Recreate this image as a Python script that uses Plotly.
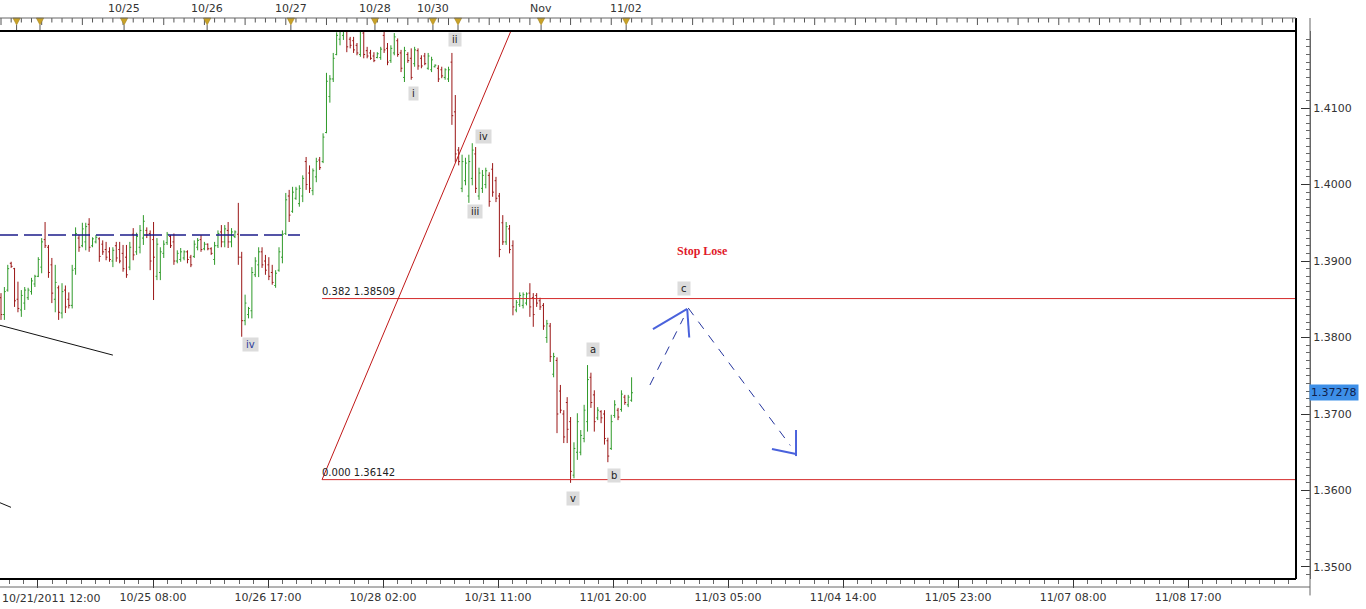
import plotly.graph_objects as go

# ---------------- data (hourly EUR/USD bars) ----------------
bar_open = [1.3852,1.3830,1.3862,1.3897,1.3890,1.3850,1.3836,1.3845,1.3852,1.3860,
            1.3870,1.3880,1.3892,1.3928,1.3918,1.3895,1.3850,1.3865,1.3832,1.3862,
            1.3850,1.3842,1.3890,1.3930,1.3920,1.3925,1.3948,1.3920,1.3925,1.3929,
            1.3922,1.3915,1.3912,1.3900,1.3920,1.3915,1.3910,1.3905,1.3892,1.3935,
            1.3912,1.3918,1.3930,1.3940,1.3936,1.3928,1.3880,1.3885,1.3910,1.3924,
            1.3932,1.3925,1.3900,1.3902,1.3904,1.3912,1.3905,1.3906,1.3918,1.3928,
            1.3916,1.3922,1.3916,1.3902,1.3920,1.3938,1.3925,1.3940,1.3925,1.3932,
            1.3935,1.3905,1.3822,1.3830,1.3835,1.3882,1.3895,1.3912,1.3900,1.3895,
            1.3885,1.3868,1.3888,1.3905,1.3936,1.3985,1.3965,1.3982,1.3975,1.3985,
            1.4030,1.4015,1.3992,1.4010,1.4032,1.4030,1.4068,1.4115,1.4138,1.4170,
            1.4190,1.4195,1.4200,1.4190,1.4188,1.4182,1.4170,1.4198,1.4175,1.4172,
            1.4168,1.4166,1.4166,1.4195,1.4178,1.4162,1.4172,1.4188,1.4172,1.4140,
            1.4170,1.4165,1.4158,1.4175,1.4165,1.4168,1.4152,1.4150,1.4154,1.4152,
            1.4150,1.4140,1.4138,1.4160,1.4095,1.4045,1.3995,1.4005,1.3985,1.4008,
            1.4040,1.3985,1.3995,1.4000,1.4012,1.4020,1.4005,1.3985,1.3950,1.3925,
            1.3942,1.3920,1.3836,1.3843,1.3842,1.3845,1.3858,1.3852,1.3855,1.3848,
            1.3842,1.3800,1.3815,1.3752,1.3770,1.3730,1.3700,1.3715,1.3690,1.3620,
            1.3650,1.3650,1.3668,1.3690,1.3748,1.3725,1.3695,1.3703,1.3700,1.3665,
            1.3655,1.3698,1.3705,1.3706,1.3722,1.3712,1.3718]
bar_high = [1.3858,1.3866,1.3895,1.3899,1.3891,1.3873,1.3862,1.3866,1.3865,1.3878,
            1.3882,1.3905,1.3930,1.3951,1.3921,1.3904,1.3895,1.3868,1.3871,1.3868,
            1.3859,1.3895,1.3944,1.3934,1.3950,1.3950,1.3956,1.3931,1.3934,1.3931,
            1.3927,1.3925,1.3918,1.3918,1.3925,1.3925,1.3921,1.3921,1.3925,1.3943,
            1.3937,1.3947,1.3960,1.3944,1.3940,1.3951,1.3930,1.3918,1.3927,1.3938,
            1.3934,1.3936,1.3914,1.3917,1.3914,1.3914,1.3908,1.3927,1.3930,1.3934,
            1.3925,1.3923,1.3918,1.3925,1.3940,1.3947,1.3947,1.3951,1.3943,1.3940,
            1.3976,1.3912,1.3856,1.3840,1.3892,1.3905,1.3918,1.3918,1.3908,1.3905,
            1.3895,1.3888,1.3918,1.3940,1.3989,1.3993,1.3997,1.3997,1.3999,1.4012,
            1.4036,1.4025,1.4021,1.4035,1.4036,1.4067,1.4146,1.4143,1.4172,1.4199,
            1.4208,1.4215,1.4204,1.4193,1.4193,1.4185,1.4208,1.4204,1.4180,1.4176,
            1.4173,1.4173,1.4180,1.4204,1.4185,1.4182,1.4198,1.4191,1.4176,1.4180,
            1.4173,1.4178,1.4180,1.4178,1.4169,1.4172,1.4172,1.4167,1.4157,1.4156,
            1.4154,1.4152,1.4154,1.4172,1.4117,1.4049,1.4039,1.4035,1.4039,1.4054,
            1.4049,1.4022,1.4019,1.4022,1.4016,1.4028,1.4010,1.3989,1.3960,1.3951,
            1.3947,1.3927,1.3849,1.3859,1.3859,1.3859,1.3871,1.3858,1.3858,1.3852,
            1.3845,1.3823,1.3819,1.3780,1.3774,1.3738,1.3705,1.3722,1.3696,1.3663,
            1.3701,1.3679,1.3712,1.3764,1.3754,1.3731,1.3709,1.3705,1.3705,1.3669,
            1.3699,1.3718,1.3708,1.3731,1.3725,1.3725,1.3748]
bar_low = [1.3823,1.3823,1.3860,1.3891,1.3840,1.3833,1.3827,1.3836,1.3849,1.3856,
           1.3866,1.3879,1.3884,1.3917,1.3878,1.3845,1.3833,1.3823,1.3825,1.3832,
           1.3838,1.3838,1.3882,1.3912,1.3918,1.3914,1.3912,1.3918,1.3923,1.3899,
           1.3908,1.3901,1.3899,1.3892,1.3899,1.3897,1.3886,1.3878,1.3888,1.3901,
           1.3908,1.3910,1.3921,1.3930,1.3888,1.3849,1.3875,1.3875,1.3904,1.3921,
           1.3917,1.3895,1.3897,1.3899,1.3901,1.3897,1.3892,1.3904,1.3914,1.3912,
           1.3914,1.3914,1.3908,1.3895,1.3917,1.3918,1.3918,1.3917,1.3918,1.3930,
           1.3895,1.3801,1.3816,1.3825,1.3825,1.3879,1.3879,1.3891,1.3882,1.3875,
           1.3869,1.3865,1.3886,1.3897,1.3934,1.3951,1.3963,1.3980,1.3971,1.3977,
           1.3993,1.3989,1.3986,1.4003,1.4019,1.4028,1.4067,1.4107,1.4134,1.4169,
           1.4182,1.4189,1.4173,1.4178,1.4172,1.4169,1.4167,1.4165,1.4165,1.4163,
           1.4160,1.4165,1.4163,1.4172,1.4156,1.4159,1.4169,1.4167,1.4147,1.4134,
           1.4159,1.4137,1.4154,1.4150,1.4152,1.4156,1.4150,1.4147,1.4153,1.4134,
           1.4139,1.4137,1.4134,1.4078,1.4029,1.4025,1.3990,1.3999,1.3976,1.3999,
           1.3989,1.3980,1.3989,1.3995,1.3971,1.3984,1.3977,1.3905,1.3921,1.3921,
           1.3910,1.3829,1.3833,1.3840,1.3838,1.3842,1.3827,1.3814,1.3840,1.3836,
           1.3810,1.3793,1.3768,1.3748,1.3675,1.3701,1.3662,1.3662,1.3610,1.3616,
           1.3640,1.3646,1.3663,1.3677,1.3708,1.3677,1.3692,1.3688,1.3660,1.3637,
           1.3653,1.3695,1.3692,1.3703,1.3712,1.3709,1.3716]
bar_close = [1.3830,1.3860,1.3890,1.3893,1.3848,1.3838,1.3855,1.3862,1.3862,1.3874,
             1.3880,1.3902,1.3925,1.3920,1.3885,1.3858,1.3872,1.3833,1.3860,1.3840,
             1.3842,1.3888,1.3936,1.3918,1.3942,1.3945,1.3918,1.3929,1.3931,1.3906,
             1.3912,1.3905,1.3902,1.3914,1.3904,1.3900,1.3890,1.3882,1.3918,1.3908,
             1.3932,1.3940,1.3952,1.3934,1.3900,1.3905,1.3922,1.3912,1.3922,1.3935,
             1.3920,1.3900,1.3910,1.3912,1.3912,1.3902,1.3895,1.3922,1.3927,1.3915,
             1.3922,1.3916,1.3910,1.3920,1.3936,1.3925,1.3942,1.3925,1.3938,1.3938,
             1.3905,1.3822,1.3845,1.3838,1.3885,1.3900,1.3912,1.3895,1.3888,1.3880,
             1.3872,1.3884,1.3912,1.3935,1.3980,1.3960,1.3990,1.3994,1.3995,1.4008,
             1.4000,1.3995,1.4018,1.4030,1.4022,1.4062,1.4135,1.4138,1.4165,1.4195,
             1.4203,1.4210,1.4180,1.4182,1.4176,1.4172,1.4200,1.4170,1.4168,1.4165,
             1.4162,1.4171,1.4177,1.4176,1.4160,1.4178,1.4193,1.4170,1.4152,1.4175,
             1.4162,1.4140,1.4176,1.4155,1.4155,1.4158,1.4168,1.4163,1.4156,1.4138,
             1.4142,1.4150,1.4150,1.4090,1.4040,1.4030,1.4030,1.4028,1.4030,1.4045,
             1.3995,1.4015,1.4012,1.4018,1.3978,1.3990,1.3982,1.3915,1.3925,1.3945,
             1.3915,1.3840,1.3846,1.3855,1.3856,1.3857,1.3840,1.3830,1.3845,1.3840,
             1.3815,1.3818,1.3775,1.3775,1.3700,1.3705,1.3670,1.3680,1.3625,1.3655,
             1.3690,1.3672,1.3705,1.3745,1.3715,1.3690,1.3705,1.3695,1.3668,1.3645,
             1.3690,1.3712,1.3696,1.3726,1.3715,1.3722,1.37278]
bar_index = list(range(len(bar_close)))

bottom_tick_pos = [10.91, 44.84, 78.76, 112.68, 146.61, 180.53, 214.45, 248.38, 282.30, 316.22, 350.15]
bottom_tick_text = ["", "10/25 08:00", "10/26 17:00", "10/28 02:00", "10/31 11:00", "11/01 20:00",
                    "11/03 05:00", "11/04 14:00", "11/05 23:00", "11/07 08:00", "11/08 17:00"]
first_bottom_label = "10/21/2011 12:00"

top_marker_pos = [4.6, 11.5, 36.3, 60.8, 85.5, 110.3, 127.4, 134.8, 159.3, 184.4]
top_label_pos = [36.3, 60.8, 85.5, 110.3, 127.4, 159.3, 184.4]
top_label_text = ["10/25", "10/26", "10/27", "10/28", "10/30", "Nov", "11/02"]

fib_ratio = ["0.382", "0.000"]
fib_price = [1.38509, 1.36142]
fib_start = 94.7
last_price = 1.37278

wave_text = ["ii", "i", "iv", "iii", "iv", "a", "v", "b", "c"]
wave_x = [134.0, 121.8, 142.2, 139.8, 73.5, 174.6, 168.7, 180.8, 201.5]
wave_y = [1.41902, 1.41196, 1.40634, 1.39641, 1.37915, 1.37837, 1.35889, 1.36190, 1.38647]

y_tick_vals = [1.35, 1.36, 1.37, 1.38, 1.39, 1.40, 1.41]

X_MIN, X_MAX = -0.295, 386.1
Y_MIN, Y_MAX = 1.34843, 1.42007
BORDER_X = 381.98   # right edge of the price pane
PANE_PAPER_X = 1296 / 1310
STRIP_TOP = 1.0237   # paper y of the thin line above the time strip
TRI_BOTTOM = 1.0109

fig = go.Figure()

fig.add_trace(go.Ohlc(
    x=bar_index, open=bar_open, high=bar_high, low=bar_low, close=bar_close,
    increasing=dict(line=dict(color="#2f9a2a", width=1)),
    decreasing=dict(line=dict(color="#9a1515", width=1)),
    tickwidth=0.4, hoverinfo="skip", showlegend=False))

shapes = []
# top time strip: small ticks hanging from the thin line
for k, xv in enumerate([i * 3.0 for i in range(0, 128)]):
    shapes.append(dict(type="line", xref="x", yref="paper", x0=xv, x1=xv, y0=STRIP_TOP,
                       y1=STRIP_TOP - (0.0128 if k % 4 == 0 else 0.0082),
                       line=dict(color="#555", width=1)))
# golden day markers
for xv in top_marker_pos:
    shapes.append(dict(type="path", xref="x", yref="paper",
                       path=f"M {xv - 1.1},{STRIP_TOP} L {xv + 1.1},{STRIP_TOP} L {xv},{TRI_BOTTOM} Z",
                       fillcolor="#c9a227", line=dict(color="#9a7a18", width=0.5)))
    shapes.append(dict(type="line", xref="x", yref="paper", x0=xv, x1=xv, y0=TRI_BOTTOM, y1=1.0,
                       line=dict(color="#555", width=1)))
# fibonacci levels
for p in fib_price:
    shapes.append(dict(type="line", xref="x", yref="y", x0=fib_start, x1=BORDER_X, y0=p, y1=p,
                       line=dict(color="#d42a2a", width=1)))
# red trend line
shapes.append(dict(type="line", xref="x", yref="y", x0=fib_start, y0=fib_price[1], x1=150.4, y1=Y_MAX,
                   line=dict(color="#c01818", width=1)))
# black trend lines at left
shapes.append(dict(type="line", xref="x", yref="y", x0=X_MIN, y0=1.3816, x1=33.0, y1=1.3777,
                   line=dict(color="#111", width=1)))
shapes.append(dict(type="line", xref="x", yref="y", x0=X_MIN, y0=1.3584, x1=2.95, y1=1.3578,
                   line=dict(color="#111", width=1)))
# navy dashed horizontal
shapes.append(dict(type="line", xref="x", yref="y", x0=X_MIN, y0=1.3934, x1=88.2, y1=1.3934,
                   line=dict(color="#1c1c8a", width=1.5, dash="18px,6px")))
# projected path (dashed) with arrow heads
shapes.append(dict(type="line", xref="x", yref="y", x0=191.4, y0=1.37379, x1=201.3, y1=1.38255,
                   line=dict(color="#25359e", width=1, dash="9px,8px")))
shapes.append(dict(type="line", xref="x", yref="y", x0=202.7, y0=1.38386, x1=232.8, y1=1.36589,
                   line=dict(color="#25359e", width=1, dash="9px,8px")))
for (xa, ya, xb, yb) in [(192.3, 1.38111, 202.4, 1.38373), (202.4, 1.38373, 203.0, 1.3800),
                         (227.4, 1.36542, 234.5, 1.36477), (234.5, 1.36791, 234.5, 1.36450)]:
    shapes.append(dict(type="line", xref="x", yref="y", x0=xa, y0=ya, x1=xb, y1=yb,
                       line=dict(color="#4a62dc", width=2)))
# pane frame
shapes.append(dict(type="line", xref="paper", yref="paper", x0=0, x1=PANE_PAPER_X, y0=1, y1=1,
                   line=dict(color="#000", width=2)))
shapes.append(dict(type="line", xref="paper", yref="paper", x0=0, x1=PANE_PAPER_X, y0=0, y1=0,
                   line=dict(color="#000", width=2)))
shapes.append(dict(type="line", xref="paper", yref="paper", x0=PANE_PAPER_X, x1=PANE_PAPER_X, y0=0, y1=STRIP_TOP,
                   line=dict(color="#000", width=2)))
shapes.append(dict(type="line", xref="paper", yref="paper", x0=0, x1=PANE_PAPER_X, y0=STRIP_TOP, y1=STRIP_TOP,
                   line=dict(color="#666", width=1)))
shapes.append(dict(type="line", xref="paper", yref="paper", x0=0, x1=1, y0=-0.0146, y1=-0.0146,
                   line=dict(color="#666", width=1)))
shapes.append(dict(type="line", xref="paper", yref="paper", x0=1, x1=1, y0=-0.03, y1=STRIP_TOP,
                   line=dict(color="#666", width=1)))

annotations = []
annotations.append(dict(xref="paper", yref="paper", x=0, y=-0.0146, xanchor="left", yanchor="top",
                        yshift=-3, text=first_bottom_label, showarrow=False,
                        font=dict(family="DejaVu Sans", size=11, color="#333")))
for t, x in zip(top_label_text, top_label_pos):
    annotations.append(dict(xref="x", yref="paper", x=x, y=1.0415, yanchor="middle", text=t,
                            showarrow=False, font=dict(family="DejaVu Sans", size=11, color="#333")))
for r, p in zip(fib_ratio, fib_price):
    annotations.append(dict(xref="x", yref="y", x=fib_start, y=p, xanchor="left", yanchor="bottom",
                            text=f"{r} {p:.5f}", showarrow=False, xshift=-2,
                            font=dict(family="DejaVu Sans", size=10, color="#222")))
for i, (t, x, y) in enumerate(zip(wave_text, wave_x, wave_y)):
    annotations.append(dict(xref="x", yref="y", x=x, y=y, text=f"\u2009{t}\u2009", showarrow=False,
                            bgcolor="#dcdcdc", borderpad=1,
                            font=dict(family="DejaVu Sans", size=10,
                                      color="#2a3a9a" if i == 4 else "#222")))
annotations.append(dict(xref="x", yref="y", x=206.8, y=1.39137, text="<b>Stop Lose</b>", showarrow=False,
                        font=dict(family="Liberation Serif", size=12, color="#e0182a")))
annotations.append(dict(xref="paper", yref="y", x=1, y=last_price, xanchor="left", xshift=-1,
                        text=f"{last_price:.5f}", showarrow=False, bgcolor="#3d8fe8", borderpad=1,
                        font=dict(family="DejaVu Sans", size=11, color="#10204a")))

bottom_minor = [bottom_tick_pos[0] + k * 33.92 / 8 for k in range(-2, 90) if k % 8 != 0]

fig.update_layout(
    width=1366, height=609, margin=dict(l=0, r=56, t=31, b=30, pad=0, autoexpand=False),
    paper_bgcolor="white", plot_bgcolor="white", showlegend=False, hovermode=False,
    shapes=shapes, annotations=annotations,
    xaxis=dict(range=[X_MIN, X_MAX], rangeslider=dict(visible=False), showgrid=False, zeroline=False,
               showline=False, tickmode="array", tickvals=bottom_tick_pos, ticktext=bottom_tick_text,
               ticks="outside", ticklen=8, tickcolor="#333", tickwidth=1, automargin=False,
               tickfont=dict(family="DejaVu Sans", size=11, color="#333"),
               minor=dict(tickmode="array", tickvals=bottom_minor, ticks="outside", ticklen=4,
                          tickcolor="#666", showgrid=False)),
    yaxis=dict(range=[Y_MIN, Y_MAX], side="right", showgrid=False, zeroline=False,
               showline=True, linecolor="#666", linewidth=1, automargin=False,
               tickmode="array", tickvals=y_tick_vals, ticktext=[f"{v:.4f}" for v in y_tick_vals],
               ticks="inside", ticklen=9, tickcolor="#333",
               tickfont=dict(family="DejaVu Sans", size=11, color="#333"),
               minor=dict(dtick=0.001, tick0=1.35, ticks="inside", ticklen=4, tickcolor="#666",
                          showgrid=False)),
)

fig.write_html("out.html", config={"displayModeBar": False},
               post_script="document.body.style.margin='0px';document.body.style.overflow='hidden';")
